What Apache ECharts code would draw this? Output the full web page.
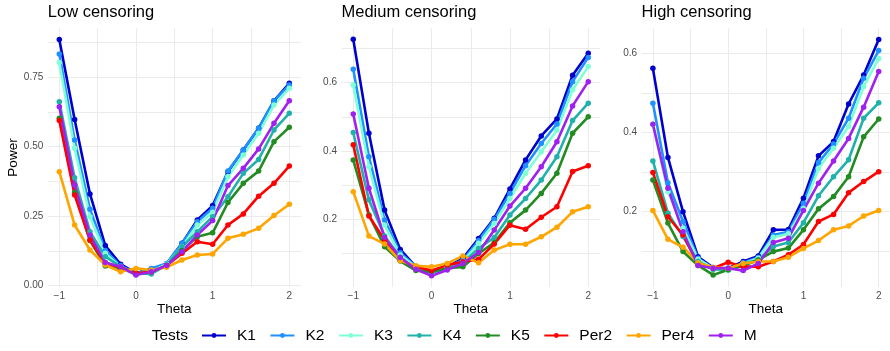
<!DOCTYPE html>
<html>
<head>
<meta charset="utf-8">
<title>Power by censoring</title>
<script src="https://cdn.jsdelivr.net/npm/echarts@6/dist/echarts.min.js"></script>
<style>
  html, body { margin: 0; padding: 0; background: #fff; }
  #chart { width: 890px; height: 351px; }
</style>
</head>
<body>
<div id="chart"></div>
<script>
const theta = [-1, -0.8, -0.6, -0.4, -0.2, 0, 0.2, 0.4, 0.6, 0.8, 1, 1.2, 1.4, 1.6, 1.8, 2];
const tests = ['K1', 'K2', 'K3', 'K4', 'K5', 'Per2', 'Per4', 'M'];
const panelTitles = ['Low censoring', 'Medium censoring', 'High censoring'];

// Low censoring
const lowK1 = [0.886, 0.598, 0.330, 0.144, 0.077, 0.045, 0.060, 0.078, 0.152, 0.236, 0.288, 0.410, 0.488, 0.566, 0.665, 0.728];
const lowK2 = [0.833, 0.524, 0.275, 0.126, 0.072, 0.044, 0.062, 0.080, 0.152, 0.230, 0.278, 0.412, 0.488, 0.566, 0.665, 0.722];
const lowK3 = [0.803, 0.494, 0.248, 0.116, 0.068, 0.042, 0.050, 0.077, 0.140, 0.218, 0.264, 0.392, 0.470, 0.548, 0.650, 0.710];
const lowK4 = [0.662, 0.388, 0.194, 0.104, 0.068, 0.044, 0.042, 0.074, 0.140, 0.194, 0.248, 0.320, 0.404, 0.454, 0.560, 0.620];
const lowK5 = [0.602, 0.335, 0.162, 0.071, 0.062, 0.042, 0.050, 0.072, 0.126, 0.176, 0.190, 0.299, 0.368, 0.412, 0.518, 0.570];
const lowPer2 = [0.594, 0.326, 0.164, 0.080, 0.066, 0.044, 0.050, 0.072, 0.116, 0.158, 0.149, 0.218, 0.258, 0.322, 0.368, 0.430];
const lowPer4 = [0.410, 0.218, 0.128, 0.074, 0.050, 0.062, 0.056, 0.066, 0.092, 0.110, 0.114, 0.170, 0.185, 0.206, 0.252, 0.293];
const lowM = [0.644, 0.362, 0.182, 0.083, 0.068, 0.038, 0.050, 0.072, 0.122, 0.182, 0.234, 0.360, 0.422, 0.492, 0.584, 0.665];

// Medium censoring
const medK1 = [0.727, 0.452, 0.227, 0.112, 0.061, 0.047, 0.061, 0.086, 0.144, 0.203, 0.289, 0.374, 0.444, 0.494, 0.622, 0.686];
const medK2 = [0.639, 0.383, 0.198, 0.102, 0.061, 0.044, 0.061, 0.081, 0.138, 0.200, 0.276, 0.357, 0.422, 0.479, 0.603, 0.674];
const medK3 = [0.593, 0.354, 0.183, 0.096, 0.060, 0.042, 0.060, 0.076, 0.130, 0.188, 0.261, 0.335, 0.398, 0.461, 0.579, 0.647];
const medK4 = [0.454, 0.257, 0.151, 0.089, 0.054, 0.044, 0.057, 0.073, 0.115, 0.147, 0.213, 0.261, 0.315, 0.383, 0.489, 0.540];
const medK5 = [0.374, 0.213, 0.120, 0.078, 0.050, 0.047, 0.057, 0.061, 0.100, 0.132, 0.190, 0.227, 0.276, 0.335, 0.452, 0.500];
const medPer2 = [0.418, 0.210, 0.140, 0.081, 0.061, 0.050, 0.066, 0.076, 0.083, 0.128, 0.183, 0.171, 0.206, 0.237, 0.340, 0.357];
const medPer4 = [0.281, 0.151, 0.128, 0.079, 0.064, 0.061, 0.071, 0.093, 0.073, 0.110, 0.127, 0.127, 0.149, 0.177, 0.222, 0.237];
const medM = [0.508, 0.291, 0.147, 0.088, 0.054, 0.035, 0.052, 0.071, 0.103, 0.169, 0.239, 0.291, 0.354, 0.427, 0.532, 0.603];

// High censoring
const highK1 = [0.562, 0.337, 0.200, 0.086, 0.059, 0.057, 0.074, 0.088, 0.154, 0.155, 0.234, 0.341, 0.377, 0.472, 0.545, 0.635];
const highK2 = [0.474, 0.273, 0.175, 0.082, 0.057, 0.053, 0.071, 0.084, 0.141, 0.149, 0.221, 0.324, 0.371, 0.436, 0.537, 0.607];
const highK3 = [0.421, 0.250, 0.158, 0.080, 0.057, 0.051, 0.069, 0.082, 0.135, 0.144, 0.208, 0.309, 0.360, 0.415, 0.516, 0.587];
const highK4 = [0.328, 0.196, 0.137, 0.074, 0.054, 0.053, 0.069, 0.078, 0.112, 0.122, 0.172, 0.240, 0.288, 0.331, 0.436, 0.475];
const highK5 = [0.280, 0.171, 0.099, 0.064, 0.040, 0.053, 0.063, 0.078, 0.099, 0.108, 0.154, 0.207, 0.238, 0.288, 0.389, 0.434];
const highPer2 = [0.299, 0.187, 0.141, 0.067, 0.057, 0.072, 0.061, 0.061, 0.074, 0.091, 0.117, 0.175, 0.193, 0.248, 0.276, 0.301];
const highPer4 = [0.203, 0.130, 0.110, 0.071, 0.059, 0.057, 0.069, 0.074, 0.074, 0.085, 0.107, 0.127, 0.154, 0.164, 0.189, 0.203];
const highM = [0.421, 0.259, 0.149, 0.064, 0.057, 0.057, 0.051, 0.069, 0.122, 0.133, 0.203, 0.272, 0.328, 0.385, 0.464, 0.554];

// tick positions (major + minor grid) and labelled ticks
const xTicks = [-1, -0.5, 0, 0.5, 1, 1.5, 2];
const xLabels = [-1, 0, 1, 2];
const lowYTicks = [0, 0.125, 0.25, 0.375, 0.5, 0.625, 0.75, 0.875];
const lowYLabels = [0, 0.25, 0.5, 0.75];
const medYTicks = [0.1, 0.2, 0.3, 0.4, 0.5, 0.6, 0.7];
const highYTicks = [0.1, 0.2, 0.3, 0.4, 0.5, 0.6];
const otherYLabels = [0.2, 0.4, 0.6];

const colors = ['#0000CD', '#1E90FF', '#7FFFD4', '#20B2AA', '#228B22', '#FF0000', '#FFA500', '#A020F0'];

const panels = [
  { values: [lowK1, lowK2, lowK3, lowK4, lowK5, lowPer2, lowPer4, lowM],
    left: 47.8, width: 253, yMin: -0.005, yMax: 0.927,
    yTicks: lowYTicks, yLabels: lowYLabels, digits: 2 },
  { values: [medK1, medK2, medK3, medK4, medK5, medPer2, medPer4, medM],
    left: 341.5, width: 258.5, yMin: 0.002, yMax: 0.76,
    yTicks: medYTicks, yLabels: otherYLabels, digits: 1 },
  { values: [highK1, highK2, highK3, highK4, highK5, highPer2, highPer4, highM],
    left: 641.6, width: 258, yMin: 0.0096, yMax: 0.664,
    yTicks: highYTicks, yLabels: otherYLabels, digits: 1 }
];

const font = 'Liberation Sans, Arial, sans-serif';
const gridColor = '#EBEBEB';

const grid = [], xAxis = [], yAxis = [], series = [];
const title = panelTitles.map((t, i) => ({
  text: t, left: panels[i].left, top: 4, padding: 0,
  textStyle: { fontFamily: font, fontSize: 16.5, fontWeight: 'normal', color: '#000' }
}));
title.push({
  text: 'Tests', left: 151.7, top: 327.5, padding: 0,
  textStyle: { fontFamily: font, fontSize: 15.5, fontWeight: 'normal', color: '#000' }
});

panels.forEach((p, i) => {
  grid.push({ left: p.left, top: 28, width: p.width, height: 259 });
  xAxis.push({
    type: 'value', gridIndex: i, min: -1.15, max: 2.15,
    name: 'Theta', nameLocation: 'middle', nameGap: 15, nameMoveOverlap: false,
    nameTextStyle: { fontFamily: font, fontSize: 13.5, color: '#000' },
    axisLine: { show: false },
    axisTick: { show: false, customValues: xTicks },
    axisLabel: {
      customValues: xLabels, margin: 4, fontFamily: font, fontSize: 10, color: '#4D4D4D',
      formatter: v => String(v).replace('-', '\u2212')
    },
    splitLine: { show: true, lineStyle: { color: gridColor, width: 1 } }
  });
  yAxis.push({
    type: 'value', gridIndex: i, min: p.yMin, max: p.yMax,
    name: i === 0 ? 'Power' : '', nameLocation: 'middle', nameGap: 25,
    nameTextStyle: { fontFamily: font, fontSize: 13.5, color: '#000' },
    axisLine: { show: false },
    axisTick: { show: false, customValues: p.yTicks },
    axisLabel: {
      customValues: p.yLabels, margin: 4.5, fontFamily: font, fontSize: 10, color: '#4D4D4D',
      formatter: v => v.toFixed(p.digits)
    },
    splitLine: { show: true, lineStyle: { color: gridColor, width: 1 } }
  });
  tests.forEach((name, k) => {
    series.push({
      name: name, type: 'line', xAxisIndex: i, yAxisIndex: i,
      data: theta.map((t, j) => [t, p.values[k][j]]),
      symbol: 'circle', symbolSize: 5.5, showSymbol: true,
      itemStyle: { color: colors[k] },
      lineStyle: { color: colors[k], width: 2.6 },
      clip: false
    });
  });
});

const chart = echarts.init(document.getElementById('chart'));
chart.setOption({
  animation: false,
  backgroundColor: '#fff',
  title: title,
  legend: {
    data: tests, left: 201, top: 327.5, padding: 0,
    itemWidth: 24, itemHeight: 6, itemGap: 13.5,
    textStyle: { fontFamily: font, fontSize: 15.5, color: '#000', padding: [0, 0, 0, 6] }
  },
  grid: grid,
  xAxis: xAxis,
  yAxis: yAxis,
  series: series
});
</script>
</body>
</html>
